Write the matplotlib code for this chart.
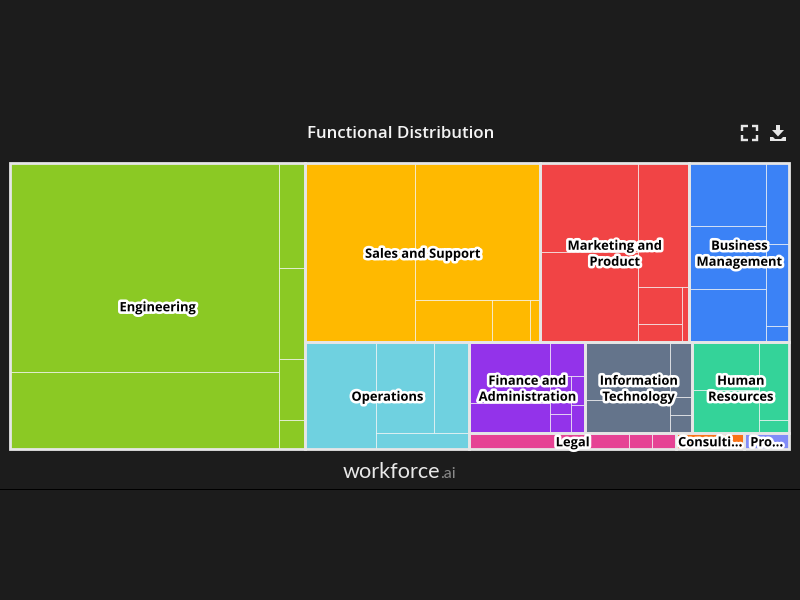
import matplotlib
matplotlib.use('Agg')
import matplotlib.pyplot as plt
import matplotlib.patheffects as pe
from matplotlib.patches import Rectangle, Polygon

# sizes of the sub-functions, nested lists = the way each box is split up
engineering = [[560, 208], [27.8, 24.1, 16.2, 7.7]]
sales = [196.5, [171.8, [32.2, 15.9, 4.3]]]
marketing = [[86.8, 88.2], [63.4, [[16.4, 8.1], 3.8]]]
business = [[47.8, 48.8, 40.9], [18.7, 19.1, 3.8]]
operations = [75.8, [[52.7, 32.0], 15.1]]
finance = [[48.7, 24.6], [12.1, [[7.9, 4.0], [4.1, 4.1]]]]
it_tech = [[49.0, 28.2], [12.2, 4.0, 4.0]]
human_res = [[32.2, 28.6], [23.5, 4.0]]
legal = [25.6, 3.7, 3.8]
consulting = [10.9]
product = [7.2]

# top level arrangement of the functions
arrangement = [engineering,
               [[sales, marketing, business],
                [operations, [[finance, it_tech, human_res], [legal, consulting, product]]]]]

labels = ['Engineering', 'Sales and Support', 'Marketing and\nProduct', 'Business\nManagement',
          'Operations', 'Finance and\nAdministration', 'Information\nTechnology', 'Human\nResources',
          'Legal', 'Consulti...', 'Pro...']
groups = [engineering, sales, marketing, business, operations, finance, it_tech, human_res,
          legal, consulting, product]
colors = ['#8bc924', '#ffb900', '#f14445', '#3b82f6', '#6fd1e0', '#9333ea', '#64748b', '#34d399',
          '#e64394', '#f97316', '#818cf8']

BG = '#1c1c1c'
FRAME = '#e6e6e6'
PX = 0.72  # one pixel in points at dpi 100


def total(node):
    if isinstance(node, list):
        return sum(total(n) for n in node)
    return node


def split(node, x, y, w, h, horizontal=True):
    """Cut the box along one direction by value, next level the other way"""
    if not isinstance(node, list):
        return [(x, y, w, h)]
    boxes = []
    whole = total(node)
    for child in node:
        share = total(child) / whole
        if horizontal:
            boxes += split(child, x, y, w * share, h, False)
            x += w * share
        else:
            boxes += split(child, x, y, w, h * share, True)
            y += h * share
    return boxes


def find_groups(node, x, y, w, h, horizontal, found):
    """Walks the top arrangement and notes the box of each function"""
    if any(node is g for g in groups):
        found[id(node)] = (x, y, w, h)
        return
    whole = total(node)
    for child in node:
        share = total(child) / whole
        if horizontal:
            find_groups(child, x, y, w * share, h, False, found)
            x += w * share
        else:
            find_groups(child, x, y, w, h * share, True, found)
            y += h * share


fig = plt.figure(figsize=(8, 6), dpi=100, facecolor=BG)

# overlay in pixels for title, logo and icons
over = fig.add_axes([0, 0, 1, 1])
over.set_xlim(0, 800)
over.set_ylim(600, 0)
over.axis('off')

over.text(400.5, 133.5, 'Functional Distribution', color='#f4f4f4', fontsize=12.2, fontweight=600,
          family='Open Sans', ha='center', va='center')
over.plot([0, 800], [489, 489], color='#000000', lw=PX)
over.text(440, 472, 'workforce', color='#e8e8e8', fontsize=15.6, family='Lato', ha='right', va='center')
over.text(440, 473.5, '.ai', color='#8a8a8a', fontsize=11.5, family='Lato', ha='left', va='center')

# fullscreen icon
for cx, cy, dx, dy in [(742, 125.5, 1, 1), (757, 125.5, -1, 1), (742, 140, 1, -1), (757, 140, -1, -1)]:
    over.plot([cx + 5.5 * dx, cx, cx], [cy, cy, cy + 5.5 * dy], color=FRAME, lw=2.4 * PX,
              solid_joinstyle='miter', solid_capstyle='butt')
# download icon
over.add_patch(Polygon([(776, 125), (780, 125), (780, 130), (784, 130), (778, 136.5), (772, 130), (776, 130)],
                       color=FRAME, lw=0))
over.add_patch(Polygon([(770, 137), (773, 137), (775, 139), (781, 139), (783, 137), (786, 137), (786, 141), (770, 141)],
                       color=FRAME, lw=0))

# treemap axes, outer frame line runs on its limits
ax = fig.add_axes([10.2 / 800, 1 - 449.3 / 600, 779 / 800, 286 / 600])
W, H = 779, 286
ax.set_xlim(0, W)
ax.set_ylim(H, 0)
ax.axis('off')

boxes = {}
find_groups(arrangement, 0, 0, W, H, True, boxes)

halo = [pe.withStroke(linewidth=3.8, foreground='white')]
for group, name, col in zip(groups, labels, colors):
    x, y, w, h = boxes[id(group)]
    for lx, ly, lw_, lh in split(group, x, y, w, h):
        ax.add_patch(Rectangle((lx, ly), lw_, lh, facecolor=col, edgecolor=(1, 1, 1, 0.65), linewidth=PX,
                               zorder=1, clip_on=False))
    ax.add_patch(Rectangle((x, y), w, h, facecolor='none', edgecolor=FRAME, linewidth=2.8 * PX,
                           joinstyle='miter', zorder=2, clip_on=False))

for group, name in zip(groups, labels):
    x, y, w, h = boxes[id(group)]
    ax.text(x + w / 2, y + h / 2 + 1.5, name, color='#000000', fontsize=9.3, fontweight='bold', family='Open Sans',
            ha='center', va='center', linespacing=1.3, path_effects=halo, zorder=3)

fig.savefig('out.png', dpi=100, facecolor=BG)
